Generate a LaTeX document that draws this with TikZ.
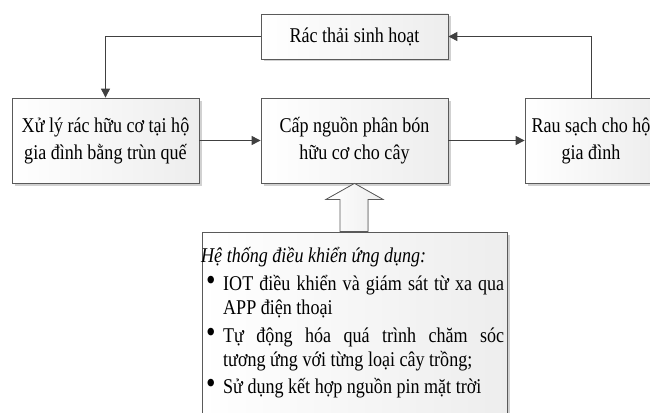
\documentclass[tikz,border=0pt]{standalone}
\usepackage{fontspec}
\setmainfont{Liberation Serif}[FakeStretch=0.86]
\usetikzlibrary{arrows.meta,shadows,positioning}
\definecolor{linec}{HTML}{404040}
\definecolor{boxc}{HTML}{5A5A5A}
\tikzset{
  box/.style={draw=boxc, line width=0.8pt, left color=white, right color=gray!14,
    drop shadow={shadow xshift=2.5pt, shadow yshift=-2.5pt, fill=gray!45, opacity=0.8},
    align=center, inner sep=4pt, font=\fontsize{21}{27}\selectfont},
  conn/.style={draw=linec, line width=1pt, -{Triangle[length=9pt,width=9pt]}},
  txt/.style={inner sep=0pt, anchor=base west, font=\fontsize{21}{24}\selectfont},
}
\newcommand{\bul}{\makebox[22pt][l]{\hspace*{5pt}\raisebox{-0.5pt}{\scalebox{1.5}{\textbullet}}}}
\begin{document}
\begin{tikzpicture}[x=1pt,y=1pt]
\useasboundingbox (0,0) rectangle (650,-412);
% boxes
\node[box, minimum width=187pt, minimum height=45pt] (top) at (354.5,-36.5) {Rác thải sinh hoạt};
\node[box, minimum width=187pt, minimum height=85pt] (left) at (105.5,-140.5) {Xử lý rác hữu cơ tại hộ\\gia đình bằng trùn quế};
\node[box, minimum width=187pt, minimum height=85pt] (mid) at (354.5,-140.5) {Cấp nguồn phân bón\\hữu cơ cho cây};
\node[box, minimum width=132pt, minimum height=85pt] (right) at (591,-140.5) {Rau sạch cho hộ\\gia đình};
\node[box, minimum width=305pt, minimum height=195pt, anchor=north west] (ctrl) at (202,-232) {};
% connectors
\draw[conn] (top.west) -| (left.north);
\draw[conn] (right.north) |- (top.east);
\draw[conn] (left.east) -- (mid.west);
\draw[conn] (mid.east) -- (right.west);
% hollow arrow
\coordinate (tip) at (mid.south);
\filldraw[draw=boxc, line width=0.8pt, left color=white, right color=gray!14]
  (tip) -- ++(28.5,-16) -- ++(-15,0) -- ++(0,-32) -- ++(-28,0) -- ++(0,32) -- ++(-14,0) -- cycle;
% control text
\node[txt] (l1) at (201,-262) {\itshape Hệ thống điều khiển ứng dụng:};
\node[txt] (l2) at (201,-290) {\bul\makebox[281pt][s]{IOT điều khiển và giám sát từ xa qua}};
\node[txt] (l3) at (223,-314) {APP điện thoại};
\node[txt] (l4) at (201,-342) {\bul\makebox[281pt][s]{Tự động hóa quá trình chăm sóc}};
\node[txt] (l5) at (223,-366) {tương ứng với từng loại cây trồng;};
\node[txt] (l6) at (201,-393) {\bul Sử dụng kết hợp nguồn pin mặt trời};
\end{tikzpicture}
\end{document}
